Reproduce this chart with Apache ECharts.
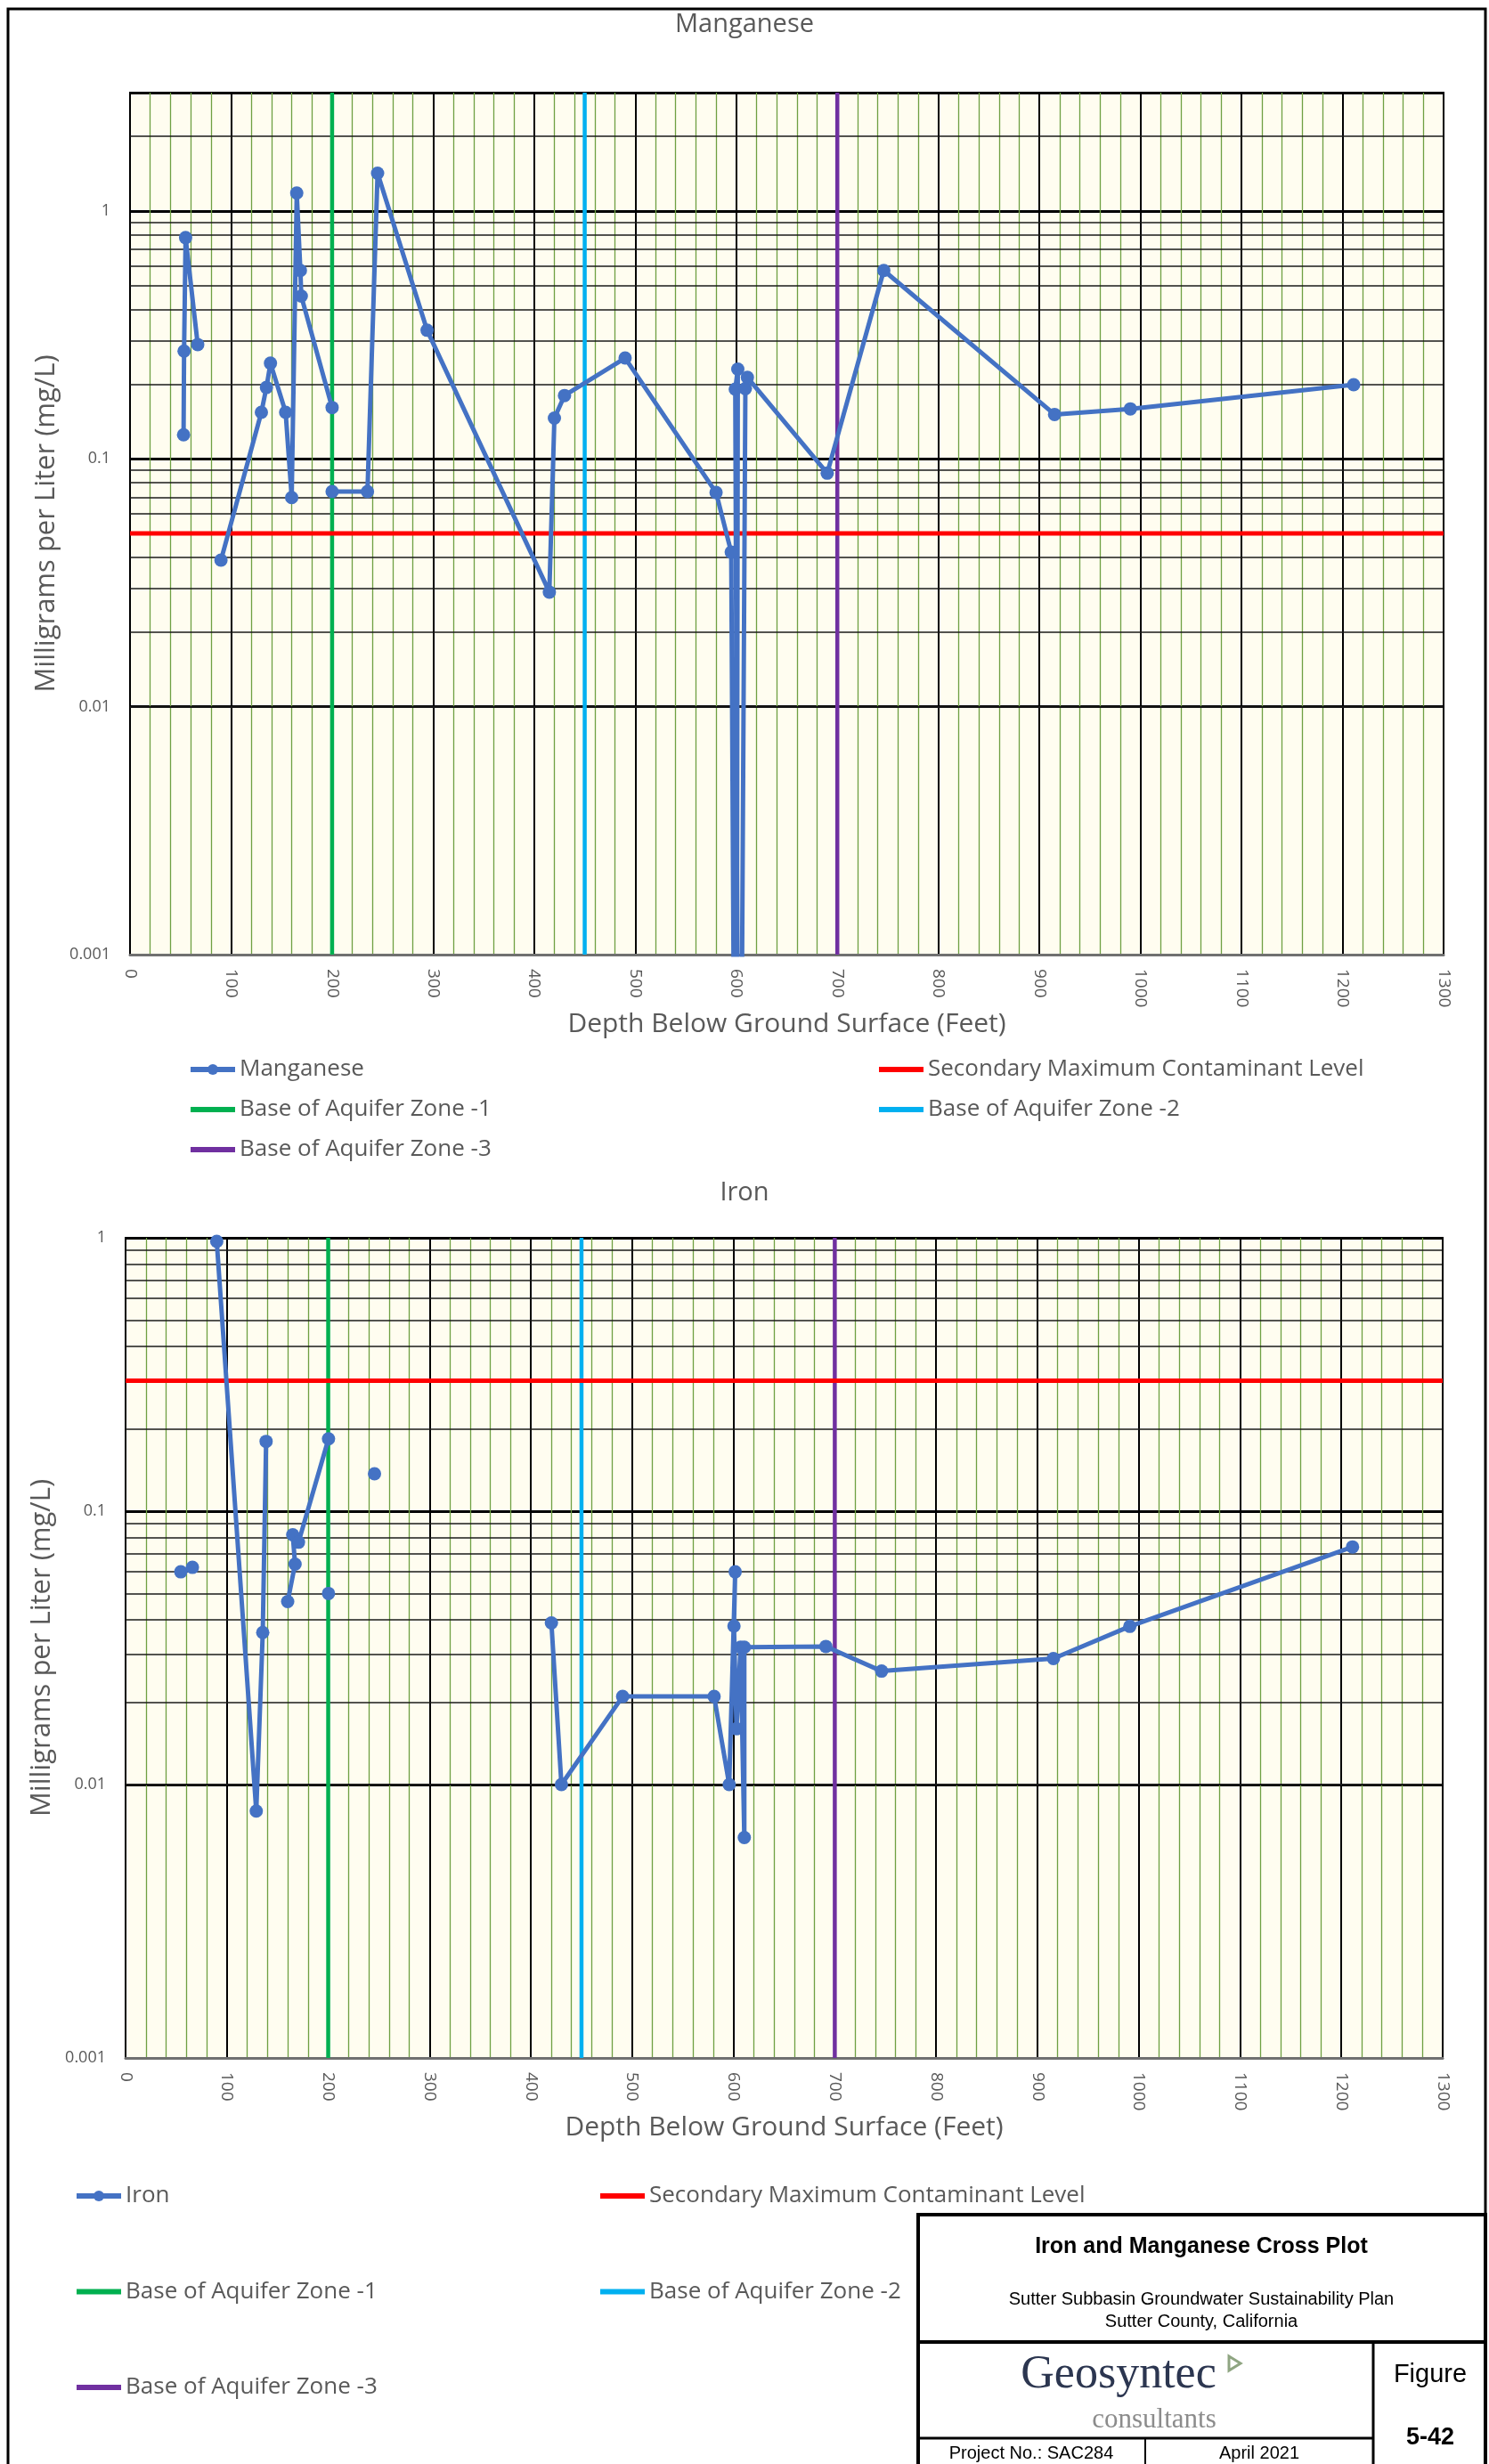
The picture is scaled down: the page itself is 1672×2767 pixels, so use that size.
<!DOCTYPE html>
<html><head><meta charset="utf-8">
<script src="https://cdn.jsdelivr.net/npm/echarts@6/dist/echarts.min.js"></script>
<style>html,body{margin:0;padding:0;background:#fff}#c{width:1672px;height:2767px}</style>
</head><body><div id="c"></div>
<script>
// ---------- data ----------
const yTickLabels = ['0.001', '0.01', '0.1', '1'];
const aquiferNames = ['Base of Aquifer Zone -1', 'Base of Aquifer Zone -2', 'Base of Aquifer Zone -3'];
const aquiferDepths = [200, 450, 700];
const aquiferColors = ['#00B050', '#00B0F0', '#7030A0'];

// Manganese (null = gap in the plotted line; 0.00001 = below the axis floor)
const mnDepth = [53, 53.5, 55, 67, null, 90, 130, 135, 139, 154, 160, 165, 168.6, 169.5, 200, null, 200, 235, 245, 294, 415, 420, 430, 490, 580, 595, 600, 601.5, 599, 603, 609, 611, 690, 746, 915, 990, 1211];
const mnValue = [0.125, 0.272, 0.78, 0.289, null, 0.039, 0.154, 0.194, 0.243, 0.154, 0.0698, 1.18, 0.575, 0.453, 0.161, null, 0.0738, 0.0738, 1.42, 0.33, 0.029, 0.146, 0.18, 0.255, 0.0731, 0.042, 0.00001, 0.23, 0.191, 0.00001, 0.192, 0.213, 0.0875, 0.575, 0.151, 0.159, 0.199];
const mnSMCL = 0.05;

// Iron
const feDepth = [54.5, 66, null, 90, 129, 135.4, 138.7, null, 160, 167.3, 165, 170.7, 200.3, null, 200.3, null, 245.7, null, 420.3, 430.2, 490.6, 580.9, 595.8, 601.7, 600.5, 603, 607, 610.7, 610.7, 691.2, 746.2, 915.8, 991.2, 1211];
const feValue = [0.060, 0.0623, null, 0.97, 0.008, 0.036, 0.180, null, 0.0467, 0.064, 0.082, 0.077, 0.184, null, 0.050, null, 0.137, null, 0.039, 0.010, 0.021, 0.021, 0.010, 0.060, 0.038, 0.016, 0.0318, 0.0064, 0.0318, 0.032, 0.026, 0.0289, 0.0379, 0.074];
const feSMCL = 0.3;

// ---------- helpers ----------
const FONT = 'Open Sans';
const TXT = '#595959';
function pairs(d, v) { return d.map((x, i) => x === null ? ['-', '-'] : [x, v[i]]); }
function minorLogValues(min, max) {
  const out = [];
  for (let e = -6; e <= 3; e++) for (let k = 2; k <= 9; k++) {
    const val = +(k * Math.pow(10, e)).toPrecision(6);
    if (val > min && val < max) out.push(val);
  }
  return out;
}
function yFmt(v) {
  const l = Math.log10(v), e = Math.round(l);
  if (Math.abs(l - e) > 1e-6) return '';
  return yTickLabels[e + 3] || '';
}
function makeAxes(gi, yMax, gapY) {
  const x = {
    gridIndex: gi, type: 'value', min: 0, max: 1300, interval: 100,
    axisLine: { show: true, onZero: false, lineStyle: { color: '#707070', width: 3 } },
    axisTick: { show: false },
    axisLabel: { rotate: -90, fontSize: 19, color: TXT, margin: 16, fontFamily: FONT, formatter: v => String(v) },
    splitLine: { show: true, lineStyle: { color: '#000', width: 2 } },
    minorTick: { show: false, splitNumber: 5 },
    minorSplitLine: { show: true, lineStyle: { color: '#6FA043', width: 1.3 } },
    name: 'Depth Below Ground Surface (Feet)', nameLocation: 'middle', nameGap: 58,
    nameTextStyle: { fontSize: 30, color: TXT, fontFamily: FONT }
  };
  const y = {
    gridIndex: gi, type: 'log', logBase: 10, min: 0.001, max: yMax,
    axisLine: { show: true, lineStyle: { color: '#000', width: 2 } },
    axisTick: { show: false },
    axisLabel: { formatter: yFmt, fontSize: 18, color: TXT, margin: 22, fontFamily: FONT },
    splitLine: { show: true, lineStyle: { color: '#000', width: 3 } },
    name: 'Milligrams per Liter (mg/L)', nameLocation: 'middle', nameRotate: 90, nameGap: gapY,
    nameTextStyle: { fontSize: 31, color: TXT, fontFamily: FONT }
  };
  return [x, y];
}
function makeSeries(gi, name, d, v, smcl, yMax) {
  const s = [];
  s.push({
    type: 'line', xAxisIndex: gi, yAxisIndex: gi, data: [[0, 0.001]], showSymbol: false,
    lineStyle: { width: 0, opacity: 0 }, silent: true, z: 1,
    markLine: {
      z: 1, silent: true, symbol: ['none', 'none'], label: { show: false },
      lineStyle: { type: 'solid', color: '#1a1a1a', width: 1.6 },
      emphasis: { disabled: true },
      data: minorLogValues(0.001, yMax).map(val => ({ yAxis: val }))
    }
  });
  aquiferNames.forEach((n, i) => s.push({
    name: n, type: 'line', xAxisIndex: gi, yAxisIndex: gi,
    data: [[aquiferDepths[i], 0.001], [aquiferDepths[i], yMax]],
    symbol: 'none', lineStyle: { color: aquiferColors[i], width: 4.5 }, itemStyle: { color: aquiferColors[i] }, z: 3
  }));
  s.push({
    name: 'Secondary Maximum Contaminant Level', type: 'line', xAxisIndex: gi, yAxisIndex: gi,
    data: [[0, smcl], [1300, smcl]], symbol: 'none',
    lineStyle: { color: '#FF0000', width: 5 }, itemStyle: { color: '#FF0000' }, z: 3
  });
  s.push({
    name: name, type: 'line', xAxisIndex: gi, yAxisIndex: gi, data: pairs(d, v),
    connectNulls: false, symbol: 'circle', symbolSize: 15, showAllSymbol: true,
    lineStyle: { color: '#4472C4', width: 5 }, itemStyle: { color: '#4472C4' }, z: 4
  });
  return s;
}
function lineOnly(n) { return { name: n, itemStyle: { opacity: 0 } }; }

const ax0 = makeAxes(0, 3, 73);
const ax1 = makeAxes(1, 1, 68);
const legendBase = {
  orient: 'vertical', itemWidth: 50, itemHeight: 15, selectedMode: false,
  lineStyle: { width: 6 },
  textStyle: { fontSize: 26, color: TXT, fontFamily: FONT, lineHeight: 30 }
};

const chart = echarts.init(document.getElementById('c'), null, { renderer: 'canvas' });
chart.setOption({
  animation: false,
  backgroundColor: '#fff',
  title: [
    { text: 'Manganese', left: 'center', top: 8, textStyle: { fontSize: 29, fontWeight: 'normal', color: TXT, fontFamily: FONT } },
    { text: 'Iron', left: 'center', top: 1320, textStyle: { fontSize: 29, fontWeight: 'normal', color: TXT, fontFamily: FONT } }
  ],
  grid: [
    { left: 146, right: 51, top: 104, height: 968, show: true, backgroundColor: '#FFFDF0', borderColor: '#000', borderWidth: 2 },
    { left: 141, right: 52, top: 1390, height: 921, show: true, backgroundColor: '#FFFDF0', borderColor: '#000', borderWidth: 2 }
  ],
  xAxis: [ax0[0], ax1[0]],
  yAxis: [ax0[1], ax1[1]],
  legend: [
    Object.assign({}, legendBase, { left: 206, top: 1181, itemGap: 15, data: ['Manganese', lineOnly('Base of Aquifer Zone -1'), lineOnly('Base of Aquifer Zone -3')] }),
    Object.assign({}, legendBase, { left: 979, top: 1181, itemGap: 15, data: [lineOnly('Secondary Maximum Contaminant Level'), lineOnly('Base of Aquifer Zone -2')] }),
    Object.assign({}, legendBase, { left: 78, top: 2446, itemGap: 77.5, data: ['Iron', lineOnly('Base of Aquifer Zone -1'), lineOnly('Base of Aquifer Zone -3')] }),
    Object.assign({}, legendBase, { left: 666, top: 2446, itemGap: 77.5, data: [lineOnly('Secondary Maximum Contaminant Level'), lineOnly('Base of Aquifer Zone -2')] })
  ],
  series: [].concat(
    makeSeries(0, 'Manganese', mnDepth, mnValue, mnSMCL, 3),
    makeSeries(1, 'Iron', feDepth, feValue, feSMCL, 1)
  ),
  graphic: [
    { type: 'rect', silent: true, z: 100, shape: { x: 9, y: 10, width: 1659, height: 2780 }, style: { fill: 'none', stroke: '#000', lineWidth: 3 } },
    { type: 'rect', silent: true, z: 100, shape: { x: 1031, y: 2487, width: 637, height: 300 }, style: { fill: '#fff', stroke: '#000', lineWidth: 4 } },
    { type: 'line', silent: true, z: 101, shape: { x1: 1031, y1: 2630, x2: 1668, y2: 2630 }, style: { stroke: '#000', lineWidth: 4 } },
    { type: 'line', silent: true, z: 101, shape: { x1: 1542, y1: 2630, x2: 1542, y2: 2767 }, style: { stroke: '#000', lineWidth: 3 } },
    { type: 'line', silent: true, z: 101, shape: { x1: 1031, y1: 2738, x2: 1542, y2: 2738 }, style: { stroke: '#000', lineWidth: 3 } },
    { type: 'line', silent: true, z: 101, shape: { x1: 1286, y1: 2738, x2: 1286, y2: 2767 }, style: { stroke: '#000', lineWidth: 2 } },
    { type: 'text', silent: true, z: 102, x: 1349, y: 2523, style: { text: 'Iron and Manganese Cross Plot', fontSize: 25, fontWeight: 'bold', fontFamily: 'Liberation Sans', fill: '#000', align: 'center', verticalAlign: 'middle' } },
    { type: 'text', silent: true, z: 102, x: 1349, y: 2582, style: { text: 'Sutter Subbasin Groundwater Sustainability Plan', fontSize: 20, fontFamily: 'Liberation Sans', fill: '#000', align: 'center', verticalAlign: 'middle' } },
    { type: 'text', silent: true, z: 102, x: 1349, y: 2607, style: { text: 'Sutter County, California', fontSize: 20, fontFamily: 'Liberation Sans', fill: '#000', align: 'center', verticalAlign: 'middle' } },
    { type: 'text', silent: true, z: 102, x: 1256, y: 2667, style: { text: 'Geosyntec', fontSize: 52, fontFamily: 'Liberation Serif', fill: '#2C3650', align: 'center', verticalAlign: 'middle' } },
    { type: 'polygon', silent: true, z: 102, shape: { points: [[1380, 2646], [1393, 2654], [1380, 2662]] }, style: { fill: '#fff', stroke: '#8FA582', lineWidth: 3 } },
    { type: 'text', silent: true, z: 102, x: 1296, y: 2718, style: { text: 'consultants', fontSize: 31, fontFamily: 'Liberation Serif', fill: '#8C8C8C', align: 'center', verticalAlign: 'middle' } },
    { type: 'text', silent: true, z: 102, x: 1606, y: 2667, style: { text: 'Figure', fontSize: 29, fontFamily: 'Liberation Sans', fill: '#000', align: 'center', verticalAlign: 'middle' } },
    { type: 'text', silent: true, z: 102, x: 1606, y: 2738, style: { text: '5-42', fontSize: 27, fontWeight: 'bold', fontFamily: 'Liberation Sans', fill: '#000', align: 'center', verticalAlign: 'middle' } },
    { type: 'text', silent: true, z: 102, x: 1158, y: 2755, style: { text: 'Project No.: SAC284', fontSize: 20, fontFamily: 'Liberation Sans', fill: '#000', align: 'center', verticalAlign: 'middle' } },
    { type: 'text', silent: true, z: 102, x: 1414, y: 2755, style: { text: 'April 2021', fontSize: 20, fontFamily: 'Liberation Sans', fill: '#000', align: 'center', verticalAlign: 'middle' } }
  ]
});
</script>
</body></html>
